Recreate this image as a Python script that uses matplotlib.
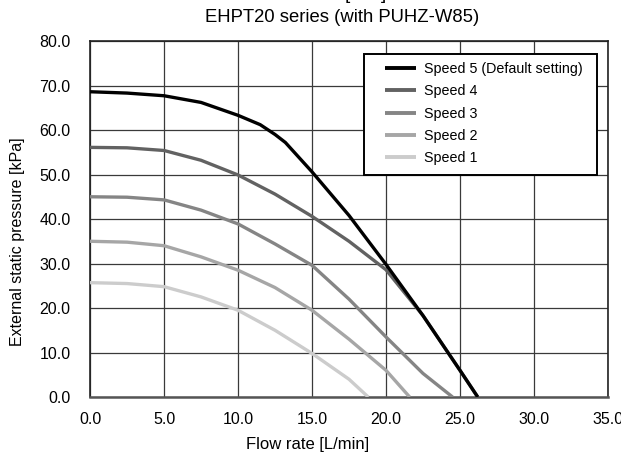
import matplotlib
matplotlib.use('Agg')
import matplotlib.pyplot as plt
from matplotlib.patches import Rectangle
import numpy as np

plt.rcParams['font.family'] = ['Liberation Sans', 'DejaVu Sans']

# Flow rate [L/min] / external static pressure [kPa]
flow5 = [0.0, 2.5, 5.0, 7.5, 10.0, 11.5, 12.5, 13.2, 15.0, 17.5, 20.0, 22.5, 25.0, 26.2]
pres5 = [68.6, 68.3, 67.7, 66.2, 63.3, 61.2, 59.0, 57.2, 50.6, 40.8, 29.8, 18.3, 6.0, 0.0]

flow4 = [0.0, 2.5, 5.0, 7.5, 10.0, 12.5, 15.0, 17.5, 20.0, 22.5, 25.0, 26.2]
pres4 = [56.1, 56.0, 55.4, 53.2, 49.9, 45.6, 40.6, 35.0, 28.6, 18.3, 6.0, 0.0]

flow3 = [0.0, 2.5, 5.0, 7.5, 10.0, 12.5, 15.0, 17.5, 20.0, 22.5, 24.5]
pres3 = [45.0, 44.9, 44.3, 42.0, 38.9, 34.4, 29.6, 22.0, 13.5, 5.3, 0.0]

flow2 = [0.0, 2.5, 5.0, 7.5, 10.0, 12.5, 15.0, 17.5, 20.0, 21.6]
pres2 = [35.0, 34.8, 34.0, 31.5, 28.5, 24.6, 19.5, 13.0, 6.0, 0.0]

flow1 = [0.0, 2.5, 5.0, 7.5, 10.0, 12.5, 15.0, 17.5, 18.8]
pres1 = [25.7, 25.5, 24.8, 22.5, 19.5, 15.0, 9.8, 4.0, 0.0]

series = [
    ('Speed 5 (Default setting)', flow5, pres5, '#000000'),
    ('Speed 4', flow4, pres4, '#626262'),
    ('Speed 3', flow3, pres3, '#858585'),
    ('Speed 2', flow2, pres2, '#a6a6a6'),
    ('Speed 1', flow1, pres1, '#cccccc'),
]

xticks = np.arange(0, 35.1, 5)
yticks = np.arange(0, 80.1, 10)

fig = plt.figure(figsize=(6.21, 4.66), dpi=100)
ax = fig.add_axes([0.145, 0.148, 0.834, 0.764])

ax.set_xlim(0, 35)
ax.set_ylim(0, 80)
ax.set_xticks(xticks)
ax.set_yticks(yticks)
ax.set_xticklabels(['%.1f' % v for v in xticks])
ax.set_yticklabels(['%.1f' % v for v in yticks])
ax.tick_params(length=0, labelsize=11.5)
ax.tick_params(axis='y', pad=14)
ax.tick_params(axis='x', pad=11)
ax.grid(True, color='#3a3a3a', linewidth=0.9)
ax.set_axisbelow(True)
for sp in ax.spines.values():
    sp.set_color('#222222')
    sp.set_linewidth(1.2)
ax.spines['bottom'].set_color('#555555')
ax.spines['bottom'].set_linewidth(1.8)

# lightest first so the darker curves sit on top
for label, fx, py, col in reversed(series):
    ax.plot(fx, py, color=col, linewidth=2.4, label=label,
            solid_joinstyle='round', solid_capstyle='butt', zorder=3)

# legend box drawn by hand so the padding matches
ax.add_patch(Rectangle((0.529, 0.624), 0.45, 0.339, transform=ax.transAxes,
                       facecolor='white', edgecolor='black', linewidth=1.4,
                       zorder=4))
handles, labels = ax.get_legend_handles_labels()
leg = ax.legend(handles[::-1], labels[::-1], loc='upper left',
                bbox_to_anchor=(0.5695, 0.941), fontsize=10.3, frameon=False,
                handlelength=2.15, handletextpad=0.55, labelspacing=0.58,
                borderpad=0, borderaxespad=0)
for ln in leg.get_lines():
    ln.set_linewidth(2.8)
leg.set_zorder(5)

fig.text(308 / 621, 1 - 444 / 466, 'Flow rate [L/min]', ha='center',
         va='center', fontsize=12)
fig.text(18 / 621, 1 - 242 / 466, 'External static pressure [kPa]',
         ha='center', va='center', rotation=90, fontsize=11.5)
fig.text(342 / 621, 1 - 17 / 466, 'EHPT20 series (with PUHZ-W85)',
         ha='center', va='center', fontsize=13.3)
# first title line, almost entirely cut off by the top edge
fig.text(387 / 621, 1 + 1 / 466, '[kPa]', ha='right', va='baseline',
         fontsize=13.3)

fig.savefig('out.png', dpi=100)
